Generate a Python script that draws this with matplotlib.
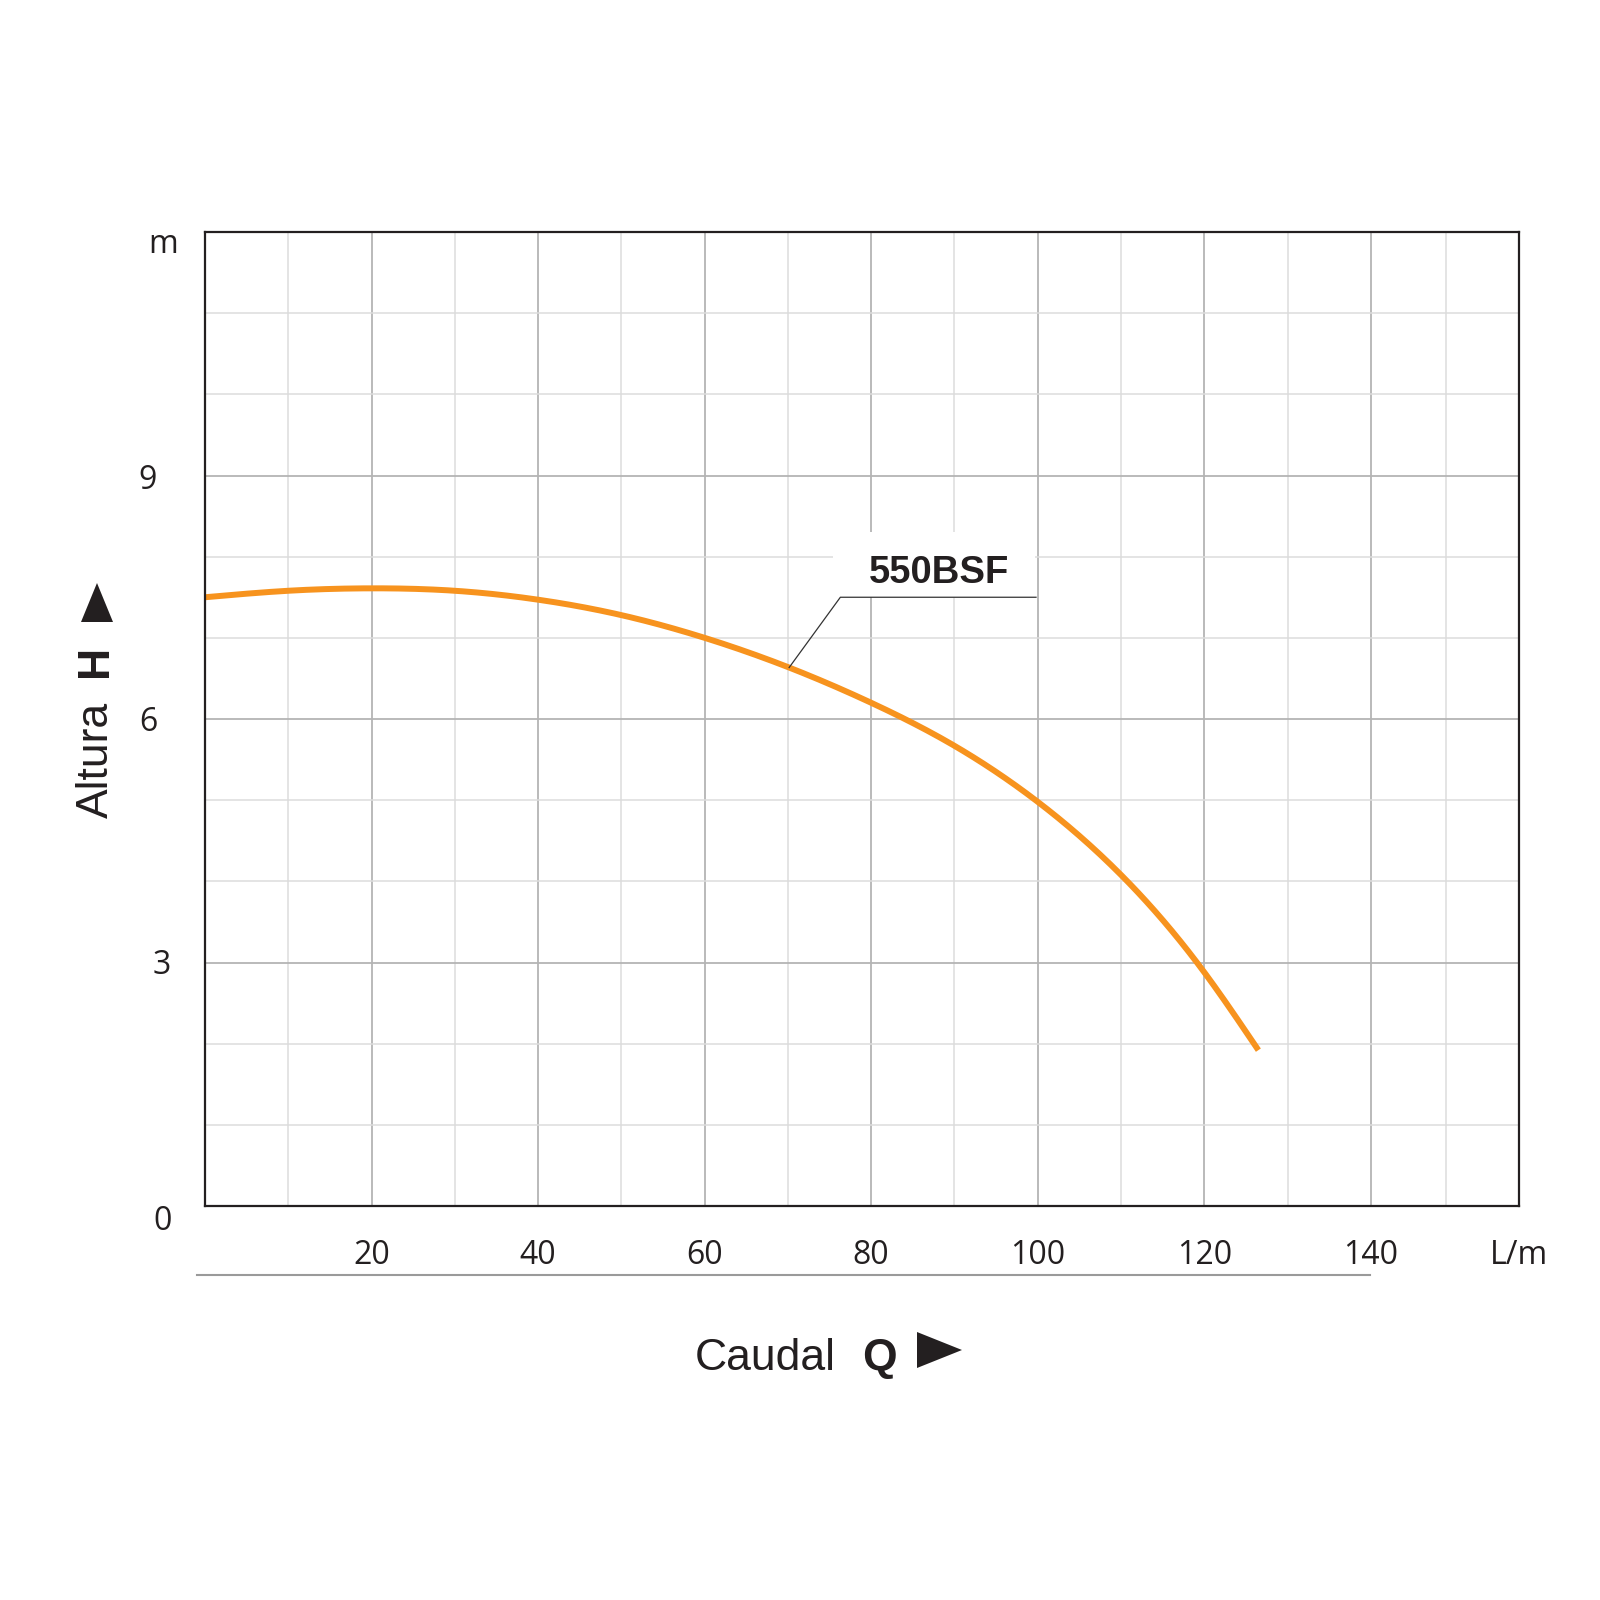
import matplotlib
matplotlib.use("Agg")
import matplotlib.pyplot as plt
from matplotlib.patches import Polygon, Rectangle
from matplotlib.lines import Line2D
from matplotlib.transforms import offset_copy
import numpy as np

# ---- data ----
flow_lpm = [0, 10, 20, 30, 40, 50, 60, 70, 80, 90, 100, 110, 120, 126.5]
head_m = [7.50, 7.58, 7.61, 7.58, 7.47, 7.28, 7.00, 6.64, 6.20, 5.67, 4.98, 4.08, 2.88, 1.92]
series_name = "550BSF"
x_ticks = [20, 40, 60, 80, 100, 120, 140]
x_tick_labels = ["20", "40", "60", "80", "100", "120", "140"]
y_ticks = [0, 3, 6, 9, 12]
y_tick_labels = ["0", "3", "6", "9", "m"]
x_unit = "L/m"

W = H = 1600
fig = plt.figure(figsize=(16, 16), dpi=100)
ax = fig.add_axes([205 / W, 1 - 1206 / H, (1519 - 205) / W, (1206 - 232) / H])
xmax = 157.8
ax.set_xlim(0, xmax)
ax.set_ylim(0, 12)

# grid
for v in range(20, 160, 20):
    ax.axvline(v, color="#b4b4b4", lw=1.3, zorder=1)
for v in [10, 30, 50, 70, 90, 110, 130, 149]:
    ax.axvline(v, color="#dcdcdc", lw=1.1, zorder=1)
for v in range(1, 12):
    if v % 3 == 0:
        ax.axhline(v, color="#b4b4b4", lw=1.3, zorder=1)
    else:
        ax.axhline(v, color="#dcdcdc", lw=1.1, zorder=1)


def natural_spline(x, y, xn):
    x = np.asarray(x, float)
    y = np.asarray(y, float)
    n = len(x)
    h = np.diff(x)
    A = np.zeros((n, n))
    b = np.zeros(n)
    A[0, 0] = 1
    A[-1, -1] = 1
    for i in range(1, n - 1):
        A[i, i - 1] = h[i - 1]
        A[i, i] = 2 * (h[i - 1] + h[i])
        A[i, i + 1] = h[i]
        b[i] = 3 * ((y[i + 1] - y[i]) / h[i] - (y[i] - y[i - 1]) / h[i - 1])
    c = np.linalg.solve(A, b)
    out = np.empty_like(xn)
    for j, xv in enumerate(xn):
        k = int(np.clip(np.searchsorted(x, xv) - 1, 0, n - 2))
        bk = (y[k + 1] - y[k]) / h[k] - h[k] * (2 * c[k] + c[k + 1]) / 3
        dk = (c[k + 1] - c[k]) / (3 * h[k])
        t = xv - x[k]
        out[j] = y[k] + bk * t + c[k] * t**2 + dk * t**3
    return out


xn = np.linspace(flow_lpm[0], flow_lpm[-1], 500)
yn = natural_spline(flow_lpm, head_m, xn)
ax.plot(xn, yn, color="#F7931E", lw=4.3, solid_capstyle="butt", zorder=4)

# label box and leader
ax.add_patch(Rectangle((75.4, 7.5), 24.3, 0.8, facecolor="white", edgecolor="none", zorder=2))
lx = 70.15
ly = float(natural_spline(flow_lpm, head_m, np.array([lx]))[0])
ax.plot([lx, 76.3, 99.8], [ly, 7.5, 7.5], color="#333333", lw=0.9, zorder=5)
ax.text(88.1, 7.80, series_name, fontsize=27.5, fontweight="bold",
        family="Liberation Sans", color="#231f20", ha="center", va="center", zorder=6)

# x ticks
ax.set_xticks(x_ticks + [xmax])
ax.set_xticklabels(x_tick_labels + [x_unit])
ax.tick_params(axis="both", length=0, labelsize=23, colors="#231f20")
ax.tick_params(axis="x", pad=24)
for lab in ax.get_xticklabels():
    lab.set_family("Open Sans")

# y tick labels as texts (individual offsets in pixels, as in reference)
ax.set_yticks(y_ticks)
ax.set_yticklabels([])
y_offsets_px = {"0": (-42, -15), "3": (-43, -3), "6": (-57, -3), "9": (-57, -5), "m": (-42, -12)}
ytrans = ax.get_yaxis_transform()
for v, lab in zip(y_ticks, y_tick_labels):
    dx, dy = y_offsets_px[lab]
    tr = offset_copy(ytrans, fig=fig, x=dx, y=dy, units="dots")
    ax.text(0, v, lab, transform=tr, fontsize=23, family="Open Sans",
            color="#231f20", ha="center", va="center", clip_on=False)

for s in ax.spines.values():
    s.set_linewidth(1.6)
    s.set_color("#231f20")
    s.set_zorder(7)

# line under x tick labels
fig.add_artist(Line2D([197 / W, 1370 / W], [1 - 1275 / H, 1 - 1275 / H],
                      color="#9a9a9a", lw=1.5))

# x axis title
fig.text(695 / W, 1 - 1370 / H, "Caudal", fontsize=32, family="Liberation Sans",
         color="#231f20", ha="left", va="baseline")
fig.text(862 / W, 1 - 1370 / H, "Q", fontsize=32, family="Liberation Sans",
         fontweight="bold", color="#231f20", ha="left", va="baseline")
fig.add_artist(Polygon([[917 / W, 1 - 1332 / H], [917 / W, 1 - 1368 / H], [962 / W, 1 - 1350 / H]],
                       closed=True, facecolor="#231f20", edgecolor="none",
                       transform=fig.transFigure))

# y axis title
fig.text(96 / W, 1 - 760 / H, "Altura", fontsize=32, family="Liberation Sans",
         color="#231f20", rotation=90, ha="center", va="center")
fig.text(96 / W, 1 - 661 / H, "H", fontsize=32, family="Liberation Sans",
         fontweight="bold", color="#231f20", rotation=90, ha="center", va="center")
fig.add_artist(Polygon([[97 / W, 1 - 583 / H], [81 / W, 1 - 622 / H], [113 / W, 1 - 622 / H]],
                       closed=True, facecolor="#231f20", edgecolor="none",
                       transform=fig.transFigure))

fig.savefig("out.png", dpi=100, facecolor="white")
